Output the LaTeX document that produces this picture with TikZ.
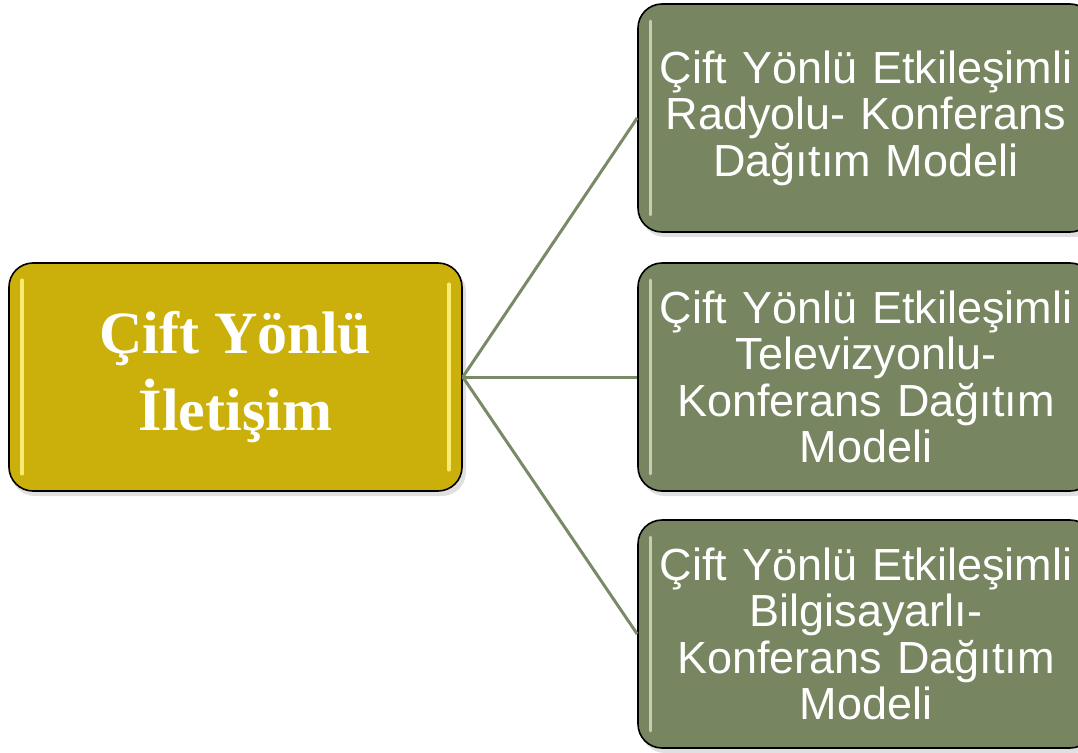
\documentclass[tikz,border=0pt]{standalone}
\usepackage{fontspec}
\setmainfont{Liberation Serif}
\newfontfamily\arialf{Liberation Sans}
\definecolor{goldfill}{HTML}{CBB00C}
\definecolor{goldhi}{HTML}{FFF27A}
\definecolor{greenfill}{HTML}{778560}
\definecolor{greenhi}{HTML}{D6E2C4}
\definecolor{linkcol}{HTML}{7A8A66}
\tikzset{
  goldbox/.style={rectangle, rounded corners=24pt, draw=black, line width=1.6pt,
    fill=goldfill, minimum width=453pt, minimum height=228pt, align=center,
    text=white, font=\bfseries\fontsize{60}{77}\selectfont, inner sep=0pt},
  greenbox/.style={rectangle, rounded corners=24pt, draw=black, line width=1.6pt,
    fill=greenfill, minimum width=456pt, minimum height=228pt, align=center,
    text=white, font=\arialf\fontsize{45}{46.5}\selectfont, inner sep=0pt, text width=440pt},
  link/.style={draw=linkcol, line width=3pt},
  shade/.style={fill=black, opacity=0.12, rounded corners=24pt},
  hiG/.style={draw=goldhi, line width=3.5pt, line cap=round, opacity=0.9},
  hiR/.style={draw=greenhi, line width=3pt, line cap=round, opacity=0.8}
}
\begin{document}
\begin{tikzpicture}[x=1pt,y=-1pt]
\useasboundingbox (0,0) rectangle (1078,752);
\clip (0,0) rectangle (1078,752);
% shadows
\fill[shade] (11,268) rectangle (466,496);
\fill[shade] (641,9) rectangle (1098,237);
\fill[shade] (641,268) rectangle (1098,496);
\fill[shade] (641,525) rectangle (1098,753);
% nodes
\node[goldbox] (a) at (235.5,377) {Çift Yönlü\\İletişim};
\node[greenbox] (r1) at (866,118) {Çift Yönlü Etkileşimli\\Radyolu- Konferans\\Dağıtım Modeli};
\node[greenbox] (r2) at (866,377) {Çift Yönlü Etkileşimli\\Televizyonlu-\\Konferans Dağıtım\\Modeli};
\node[greenbox] (r3) at (866,634) {Çift Yönlü Etkileşimli\\Bilgisayarlı-\\Konferans Dağıtım\\Modeli};
% highlights
\draw[hiG] ([xshift=14pt,yshift=-18pt]a.north west) -- ([xshift=14pt,yshift=18pt]a.south west);
\draw[hiG] ([xshift=-14pt,yshift=-22pt]a.north east) -- ([xshift=-14pt,yshift=22pt]a.south east);
\foreach \n in {r1,r2,r3}{
  \draw[hiR] ([xshift=13pt,yshift=-18pt]\n.north west) -- ([xshift=13pt,yshift=18pt]\n.south west);
}
% connectors
\draw[link] (a.east) -- (r1.west);
\draw[link] (a.east) -- (r2.west);
\draw[link] (a.east) -- (r3.west);
\end{tikzpicture}
\end{document}
